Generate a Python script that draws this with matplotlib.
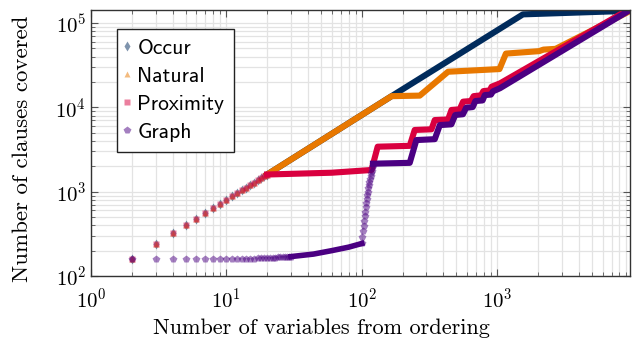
import matplotlib
matplotlib.use("Agg")
from matplotlib import pyplot as plt
from matplotlib.lines import Line2D
from matplotlib.ticker import LogLocator, NullFormatter

plt.rcParams['font.family'] = 'serif'
plt.rcParams['font.serif'] = ['cmr10']
plt.rcParams['mathtext.fontset'] = 'cm'
plt.rcParams['axes.formatter.use_mathtext'] = True

# first points, identical for Occur / Natural / Proximity
early_x = list(range(2, 21))
early_y = [160, 240, 320, 400, 480, 560, 640, 720, 800, 880, 960, 1040,
           1120, 1200, 1280, 1360, 1440, 1520, 1600]

# Occur
occur_x = [20, 166, 1550, 9570]
occur_y = [1600, 13600, 127000, 140000]

# Natural
natural_x = [20, 166, 268, 434, 1040, 1160, 2040, 2200, 2700, 9570]
natural_y = [1600, 13600, 13800, 26500, 28500, 43500, 46500, 48500, 49500, 139000]

# Proximity
prox_x = [20, 60, 118, 131, 226, 246, 327, 346, 434, 460, 529, 560,
          640, 670, 760, 790, 880, 910, 1050, 9570]
prox_y = [1600, 1680, 1810, 3420, 3500, 5400, 5500, 7080, 7200, 9330, 9500, 11700,
          11900, 13600, 13900, 15600, 15900, 17600, 19300, 148000]

# Graph: single points, slow part, jump, staircase
graph_pts_x = list(range(2, 31))
graph_pts_y = [160] * 13 + [161, 161, 162, 162, 163, 163,
                            164, 164, 165, 166, 166, 167, 168, 168, 169, 170]
graph_slow_x = [30, 44, 60, 80, 100]
graph_slow_y = [170, 182, 200, 220, 243]
graph_jump_x = list(range(100, 122))
graph_jump_y = [245, 290, 340, 390, 450, 510, 580, 650, 730, 820, 910,
                1000, 1100, 1200, 1300, 1420, 1540, 1660, 1780, 1900, 2020, 2150]
graph_x = [121, 226, 253, 346, 377, 459, 490, 559, 590, 660, 690,
           780, 810, 900, 930, 1050, 9570]
graph_y = [2150, 2200, 4100, 4200, 6170, 6300, 8130, 8300, 9900, 10100, 11900,
           12100, 14000, 14200, 15500, 16900, 143000]

c_occur = '#002b5c'
c_natural = '#e87800'
c_prox = '#d9003f'
c_graph = '#4b0082'
lw = 4.4
ms = 5.0
al = 0.5

fig = plt.figure(figsize=(6.39, 3.43), dpi=100)
ax = fig.add_axes([0.1424, 0.1953, 0.8435, 0.7755])
ax.set_xscale('log')
ax.set_yscale('log')

ax.plot(early_x, early_y, 'd', color=c_occur, ms=ms, alpha=al, mec='none')
ax.plot(occur_x, occur_y, '-', color=c_occur, lw=lw)

ax.plot(early_x, early_y, '^', color=c_natural, ms=ms, alpha=al, mec='none')
ax.plot(natural_x, natural_y, '-', color=c_natural, lw=lw)

ax.plot(early_x, early_y, 's', color=c_prox, ms=ms, alpha=al, mec='none')
ax.plot(prox_x, prox_y, '-', color=c_prox, lw=lw)

ax.plot(graph_pts_x, graph_pts_y, 'p', color=c_graph, ms=ms + 0.6, alpha=al, mec='none')
ax.plot(graph_slow_x, graph_slow_y, '-', color=c_graph, lw=lw - 0.4)
ax.plot(graph_jump_x, graph_jump_y, 'p', color=c_graph, ms=ms + 0.6, alpha=al, mec='none')
ax.plot(graph_x, graph_y, '-', color=c_graph, lw=lw)

ax.set_xlim(1, 9570)
ax.set_ylim(100, 1.43e5)

ax.xaxis.set_major_locator(LogLocator(base=10, numticks=10))
ax.xaxis.set_minor_locator(LogLocator(base=10, subs=range(2, 10), numticks=20))
ax.yaxis.set_minor_locator(LogLocator(base=10, subs=range(2, 10), numticks=20))
ax.xaxis.set_minor_formatter(NullFormatter())
ax.yaxis.set_minor_formatter(NullFormatter())

ax.grid(True, which='both', color='#e3e3e3', lw=0.9)
ax.set_axisbelow(True)
ax.tick_params(which='both', direction='in', top=True, right=True, color='#555555')
ax.tick_params(which='major', length=5, labelsize=15)
ax.tick_params(axis='x', which='major', pad=8)
ax.tick_params(which='minor', length=3)
for s in ax.spines.values():
    s.set_linewidth(1.0)
    s.set_color('#333333')

ax.set_xlabel('Number of variables from ordering', fontsize=16)
ax.set_ylabel('Number of clauses covered', fontsize=16.5)
ax.xaxis.set_label_coords(0.427, -0.158)
ax.yaxis.set_label_coords(-0.11, 0.477)

handles = [
    Line2D([], [], ls='none', marker='d', color=c_occur, alpha=al, ms=ms, mec='none'),
    Line2D([], [], ls='none', marker='^', color=c_natural, alpha=al, ms=ms, mec='none'),
    Line2D([], [], ls='none', marker='s', color=c_prox, alpha=al, ms=ms, mec='none'),
    Line2D([], [], ls='none', marker='p', color=c_graph, alpha=al, ms=ms + 0.6, mec='none'),
]
leg = ax.legend(handles, ['Occur', 'Natural', 'Proximity', 'Graph'],
                loc='upper left', bbox_to_anchor=(0.048, 0.929), borderaxespad=0,
                fancybox=False, framealpha=1, edgecolor='#222222',
                prop={'family': 'cmss10', 'size': 15.5},
                handlelength=0, handletextpad=0.5, labelspacing=0.42,
                borderpad=0.45)
leg.get_frame().set_linewidth(1.0)

fig.savefig('out.png', dpi=100)
